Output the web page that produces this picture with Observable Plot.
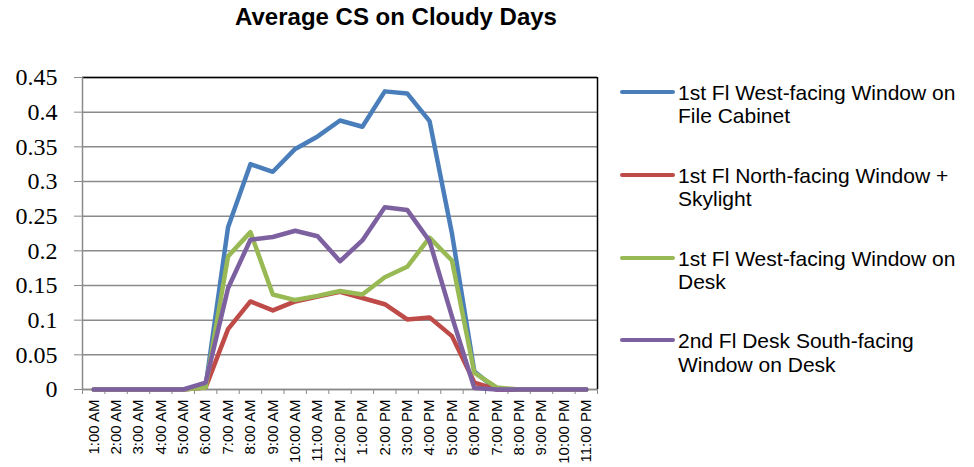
<!DOCTYPE html>
<html>
<head>
<meta charset="utf-8">
<script src="https://cdn.jsdelivr.net/npm/d3@7"></script>
<script src="https://cdn.jsdelivr.net/npm/@observablehq/plot@0.6"></script>
<style>
  html, body { margin: 0; padding: 0; background: #fff; }
  #wrap { position: relative; width: 974px; height: 467px; overflow: hidden; font-family: "Liberation Sans", Arial, sans-serif; }
  #title { position: absolute; top: 5px; left: 396px; transform: translateX(-50%); white-space: nowrap;
           font-family: "Liberation Sans", Arial, sans-serif;
           font-weight: bold; font-size: 24px; line-height: 1; color: #000; }
  #chart { position: absolute; left: 0; top: 0; }
  .leg { position: absolute; left: 620px; width: 354px; }
  .leg .sw { position: absolute; left: 0; width: 55px; height: 4px; border-radius: 2px; }
  .leg .tx { position: absolute; left: 58px; font-family: "Liberation Sans", Arial, sans-serif; font-size: 21px; line-height: 23.3px; color: #000; white-space: nowrap; }
</style>
</head>
<body>
<div id="wrap">
  <div id="chart"></div>
  <div id="title">Average CS on Cloudy Days</div>
  <div id="legend"></div>
</div>
<script>
const hours = ["1:00 AM","2:00 AM","3:00 AM","4:00 AM","5:00 AM","6:00 AM","7:00 AM","8:00 AM","9:00 AM","10:00 AM","11:00 AM","12:00 PM","1:00 PM","2:00 PM","3:00 PM","4:00 PM","5:00 PM","6:00 PM","7:00 PM","8:00 PM","9:00 PM","10:00 PM","11:00 PM"];
const seriesNames = [
  "1st Fl West-facing Window on File Cabinet",
  "1st Fl North-facing Window + Skylight",
  "1st Fl West-facing Window on Desk",
  "2nd Fl Desk South-facing Window on Desk"
];
const legendLines = [
  ["1st Fl West-facing Window on", "File Cabinet"],
  ["1st Fl North-facing Window +", "Skylight"],
  ["1st Fl West-facing Window on", "Desk"],
  ["2nd Fl Desk South-facing", "Window on Desk"]
];
const seriesColors = ["#4A7EBB", "#BE4B48", "#98B954", "#7D60A0"];
const westFileCabinet = [0,0,0,0,0,0.005,0.234,0.325,0.314,0.347,0.365,0.388,0.379,0.430,0.427,0.387,0.225,0.026,0,0,0,0,0];
const northSkylight   = [0,0,0,0,0,0.003,0.087,0.127,0.114,0.127,0.134,0.141,0.132,0.123,0.101,0.104,0.077,0.010,0,0,0,0,0];
const westDesk        = [0,0,0,0,0,0.003,0.192,0.227,0.137,0.129,0.135,0.142,0.137,0.162,0.177,0.219,0.186,0.024,0.003,0,0,0,0];
const southDesk       = [0,0,0,0,0,0.010,0.146,0.216,0.220,0.229,0.221,0.185,0.215,0.263,0.259,0.214,0.105,0.002,0,0,0,0,0];
const yTicks = [0, 0.05, 0.1, 0.15, 0.2, 0.25, 0.3, 0.35, 0.4, 0.45];

const allSeries = [westFileCabinet, northSkylight, westDesk, southDesk];
const rows = [];
allSeries.forEach((vals, s) => vals.forEach((v, i) => rows.push({series: seriesNames[s], i, v})));
const idx = hours.map((_, i) => i);
const bounds = d3.range(-0.5, hours.length, 1);
const xMin = -0.5, xMax = hours.length - 0.5;
const yMax = yTicks[yTicks.length - 1];

const chart = Plot.plot({
  width: 974,
  height: 467,
  marginLeft: 82,
  marginRight: 377,
  marginTop: 77,
  marginBottom: 78,
  x: {type: "linear", domain: [xMin, xMax]},
  y: {domain: [0, yMax]},
  color: {domain: seriesNames, range: seriesColors},
  marks: [
    Plot.gridY(yTicks, {stroke: "#8a8a8a", strokeOpacity: 1, strokeWidth: 1.5}),
    Plot.ruleY([yMax], {stroke: "#000", strokeWidth: 1.5}),
    Plot.ruleX([xMax], {stroke: "#000", strokeWidth: 1.5}),
    Plot.ruleX([xMin], {stroke: "#8a8a8a", strokeWidth: 1.5}),
    Plot.ruleY([0], {stroke: "#8a8a8a", strokeWidth: 1.5}),
    Plot.axisY(yTicks, {tickSize: 8, tickFormat: () => "", stroke: "#8a8a8a", label: null}),
    Plot.axisY(yTicks, {tickSize: 0, tickPadding: 25, fontFamily: "Liberation Serif",
      tickFormat: d => String(d), fontSize: 24, label: null}),
    Plot.axisX(bounds, {tickSize: 5, stroke: "#8a8a8a", tickFormat: () => "", label: null}),
    Plot.axisX(idx, {tickSize: 0, tickPadding: 10, tickRotate: -90, fontFamily: "Liberation Sans",
      tickFormat: i => hours[i], fontSize: 15, label: null}),
    Plot.line(rows, {x: "i", y: "v", z: "series", stroke: "series", strokeWidth: 4.5,
      strokeLinecap: "round", strokeLinejoin: "round"})
  ]
});
document.getElementById("chart").appendChild(chart);

const legend = document.getElementById("legend");
legendLines.forEach((lines, k) => {
  const top = 81 + k * 82.8;
  const e = document.createElement("div");
  e.className = "leg";
  e.style.top = top + "px";
  const sw = document.createElement("div");
  sw.className = "sw";
  sw.style.background = seriesColors[k];
  sw.style.top = "9px";
  const tx = document.createElement("div");
  tx.className = "tx";
  tx.innerHTML = lines.join("<br>");
  e.appendChild(sw);
  e.appendChild(tx);
  legend.appendChild(e);
});
</script>
</body>
</html>
